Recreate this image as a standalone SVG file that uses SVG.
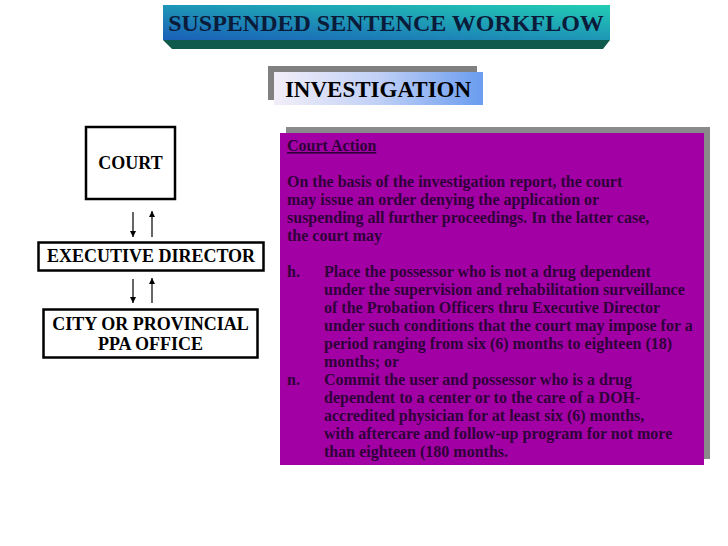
<svg xmlns="http://www.w3.org/2000/svg" width="728" height="546" viewBox="0 0 728 546">
<defs>
<linearGradient id="gTitle" x1="0" y1="1" x2="1" y2="0">
<stop offset="0" stop-color="#1a5fb8"/>
<stop offset="1" stop-color="#22cdb4"/>
</linearGradient>
<linearGradient id="gInv" x1="0" y1="0" x2="1" y2="0">
<stop offset="0" stop-color="#f2eef8"/>
<stop offset="0.5" stop-color="#c0d0f6"/>
<stop offset="1" stop-color="#6a9cf0"/>
</linearGradient>
<marker id="ah" viewBox="0 0 10 10" refX="10" refY="5" markerWidth="6" markerHeight="6" orient="auto" markerUnits="userSpaceOnUse">
<path d="M0,0 L10,5 L0,10 z" fill="#000"/>
</marker>
<style>
.serif{font-family:"Liberation Serif","Times New Roman",serif;font-weight:bold}
.node{fill:#fff;stroke:#000;stroke-width:2.5}
.nt{font-size:18px;fill:#000;text-anchor:middle}
.body{font-size:16px;fill:#30003a;white-space:pre}
.conn{stroke:#000;stroke-width:1.2;fill:none;marker-end:url(#ah)}
</style>
</defs>
<rect width="728" height="546" fill="#fff"/>

<g id="title">
<polygon points="163,40 610,40 603,49 172,49" fill="#0f5a4c"/>
<rect x="163" y="5" width="447" height="35" fill="url(#gTitle)"/>
<text class="serif" x="386" y="31" font-size="24" fill="#0b1b3a" text-anchor="middle">SUSPENDED SENTENCE WORKFLOW</text>
</g>

<g id="investigation">
<rect x="268" y="66" width="209" height="34" fill="#808080"/>
<rect x="274" y="72" width="209" height="33" fill="url(#gInv)"/>
<text class="serif" x="378" y="97" font-size="23" fill="#000" text-anchor="middle">INVESTIGATION</text>
</g>

<g id="court">
<rect class="node" x="86" y="127" width="89" height="72"/>
<text class="serif nt" x="130.5" y="169">COURT</text>
</g>

<g id="executive-director">
<rect class="node" x="38.5" y="242.5" width="225" height="28"/>
<text class="serif nt" x="151" y="262">EXECUTIVE DIRECTOR</text>
</g>

<g id="ppa-office">
<rect class="node" x="43.5" y="309.5" width="214" height="48"/>
<text class="serif nt" x="150.5" y="330">CITY OR PROVINCIAL</text>
<text class="serif nt" x="150.5" y="350">PPA OFFICE</text>
</g>

<g id="connectors">
<line class="conn" x1="133" y1="212" x2="133" y2="237"/>
<line class="conn" x1="152" y1="237" x2="152" y2="211"/>
<line class="conn" x1="133" y1="279" x2="133" y2="303"/>
<line class="conn" x1="152" y1="303" x2="152" y2="278"/>
</g>

<g id="court-action">
<rect x="286" y="127" width="424" height="332" fill="#8a8a8a"/>
<rect x="280" y="133" width="424" height="332" fill="#a200a4"/>
<g class="serif body" xml:space="preserve">
<text x="287" y="151" text-decoration="underline">Court Action</text>
<text x="287" y="187">On the basis of the investigation report, the court</text>
<text x="287" y="205">may issue an order denying the application or</text>
<text x="287" y="223">suspending all further proceedings.  In the latter case,</text>
<text x="287" y="241">the court may</text>
<text x="287" y="277">h.</text>
<text x="324" y="277">Place the possessor who is not a drug dependent</text>
<text x="324" y="295">under the  supervision and rehabilitation surveillance</text>
<text x="324" y="313">of the Probation Officers thru Executive Director</text>
<text x="324" y="331">under such conditions that the court may impose for a</text>
<text x="324" y="349">period ranging from six (6) months to eighteen (18)</text>
<text x="324" y="367">months; or</text>
<text x="287" y="385">n.</text>
<text x="324" y="385">Commit the user and possessor who is a drug</text>
<text x="324" y="403">dependent to a center or to the care of a DOH-</text>
<text x="324" y="421">accredited physician for at least six (6) months,</text>
<text x="324" y="439">with aftercare and follow-up program for not more</text>
<text x="324" y="457">than eighteen (180 months.</text>
</g>
</g>
</svg>
